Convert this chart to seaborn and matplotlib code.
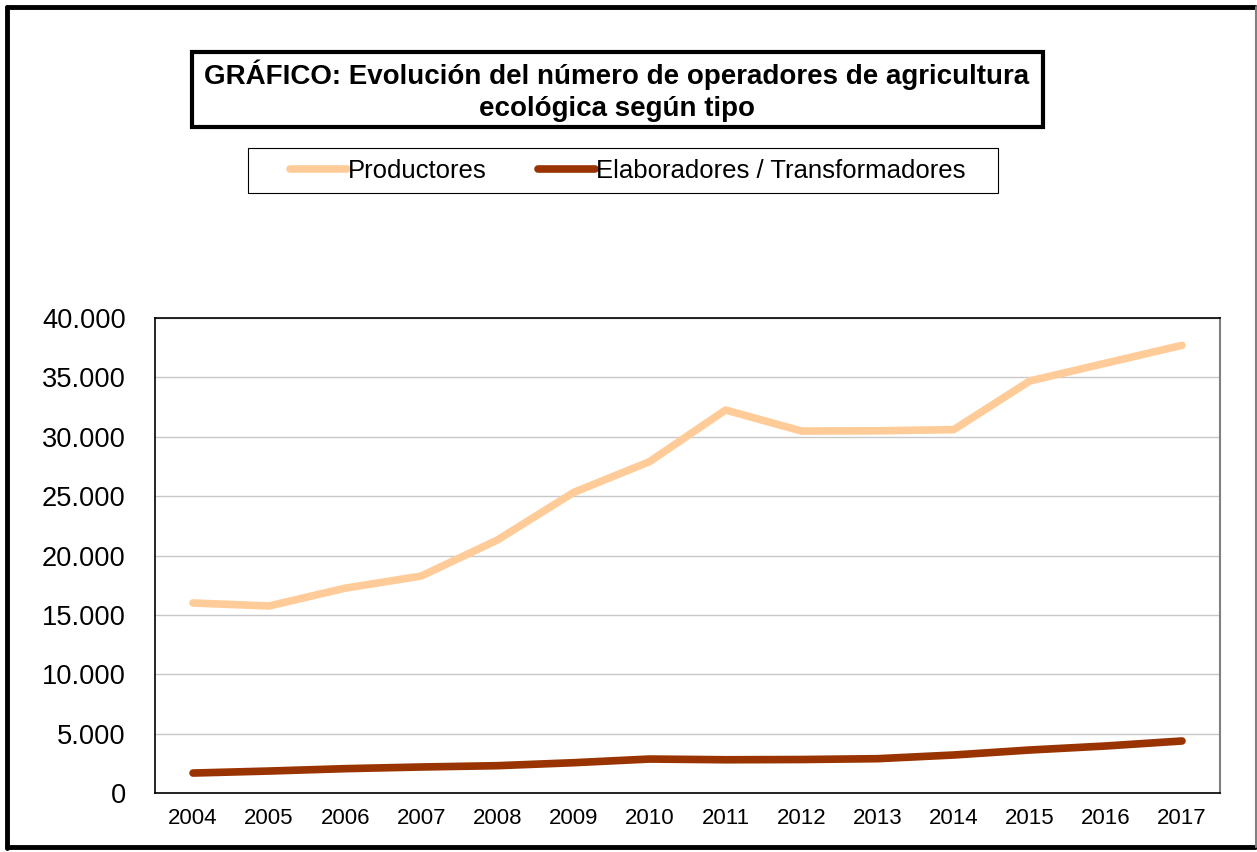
import numpy as np
import pandas as pd
import seaborn as sns
import matplotlib.pyplot as plt
from matplotlib.patches import Rectangle
from matplotlib.lines import Line2D
from matplotlib.ticker import FuncFormatter, FixedLocator

# Datos
years = [2004, 2005, 2006, 2007, 2008, 2009, 2010,
         2011, 2012, 2013, 2014, 2015, 2016, 2017]
productores = [16000, 15750, 17250, 18270, 21300, 25300, 27900,
               32250, 30480, 30500, 30600, 34700, 36200, 37700]
elaboradores = [1680, 1850, 2050, 2190, 2300, 2550, 2860,
                2800, 2820, 2890, 3200, 3620, 3960, 4380]
series_names = ["Productores", "Elaboradores / Transformadores"]
colors = ["#FFCC99", "#993300"]

df = pd.DataFrame({
    "year": [str(y) for y in years] * 2,
    "valor": productores + elaboradores,
    "tipo": [series_names[0]] * len(years) + [series_names[1]] * len(years),
})

sns.set_style("white")
plt.rcParams["font.family"] = ["Liberation Sans", "DejaVu Sans"]
plt.rcParams["text.color"] = "black"
plt.rcParams["xtick.color"] = "black"
plt.rcParams["ytick.color"] = "black"

fig = plt.figure(figsize=(12.57, 8.52), dpi=100)
ax = fig.add_axes([155 / 1257, 1 - 793 / 852, (1220 - 155) / 1257, (793 - 318) / 852])

sns.lineplot(data=df, x="year", y="valor", hue="tipo", palette=colors,
             linewidth=5.5, ax=ax, legend=False, sort=False)
for line in ax.lines:
    line.set_solid_capstyle("round")

ax.set_xlim(-0.5, len(years) - 0.5)
ax.set_ylim(0, 40000)
ax.set_yticks(np.arange(0, 40001, 5000))
ax.yaxis.set_major_formatter(FuncFormatter(lambda v, p: f"{int(v):,}".replace(",", ".")))
ax.set_xticks(range(len(years)))
ax.set_xticklabels([str(y) for y in years])
ax.xaxis.set_minor_locator(FixedLocator(np.arange(-0.5, len(years), 1.0)))
ax.tick_params(axis="x", which="major", length=0, labelsize=16, pad=11)
ax.tick_params(axis="x", which="minor", length=6, width=1, color="black", direction="out")
ax.tick_params(axis="y", length=6, width=1, color="black", direction="out", labelsize=19.6, pad=15)
ax.set_xlabel("")
ax.set_ylabel("")

ax.grid(axis="y", color="#c8c8c8", linewidth=1)
ax.set_axisbelow(True)
ax.spines["right"].set_color("#808080")
ax.spines["right"].set_linewidth(1.5)
for s in ["left", "bottom", "top"]:
    ax.spines[s].set_color("black")
    ax.spines[s].set_linewidth(1.2)

# Título con recuadro
fig.text(617 / 1257, 1 - 91 / 852,
         "GRÁFICO: Evolución del número de operadores de agricultura\necológica según tipo",
         ha="center", va="center", fontsize=20, fontweight="bold", linespacing=1.3)
fig.patches.append(Rectangle((192 / 1257, 1 - 127 / 852), (1043 - 192) / 1257, 75 / 852,
                             transform=fig.transFigure, fill=False, edgecolor="black",
                             linewidth=3))

# Leyenda (sin marco, el recuadro se dibuja aparte)
handles = [Line2D([], [], color=c, linewidth=5.5, solid_capstyle="round") for c in colors]
fig.legend(handles, series_names, loc="center", bbox_to_anchor=(628 / 1257, 1 - 171 / 852),
           ncol=2, fontsize=18.5, frameon=False, handlelength=2.2,
           handletextpad=0.05, columnspacing=2.0)
fig.patches.append(Rectangle((248 / 1257, 1 - 193 / 852), (998 - 248) / 1257, 45 / 852,
                             transform=fig.transFigure, fill=False, edgecolor="black",
                             linewidth=0.8))

# Borde exterior
fig.add_artist(Line2D([7 / 1257, 7 / 1257], [4 / 852, 845 / 852], transform=fig.transFigure,
                      color="black", linewidth=3.5))
fig.add_artist(Line2D([7 / 1257, 1255 / 1257], [845 / 852, 845 / 852], transform=fig.transFigure,
                      color="black", linewidth=3.5))
fig.add_artist(Line2D([7 / 1257, 1255 / 1257], [5 / 852, 5 / 852], transform=fig.transFigure,
                      color="black", linewidth=3.5))
fig.add_artist(Line2D([1255.5 / 1257, 1255.5 / 1257], [5 / 852, 845 / 852], transform=fig.transFigure,
                      color="#808080", linewidth=1.5))

fig.savefig("out.png", dpi=100)
